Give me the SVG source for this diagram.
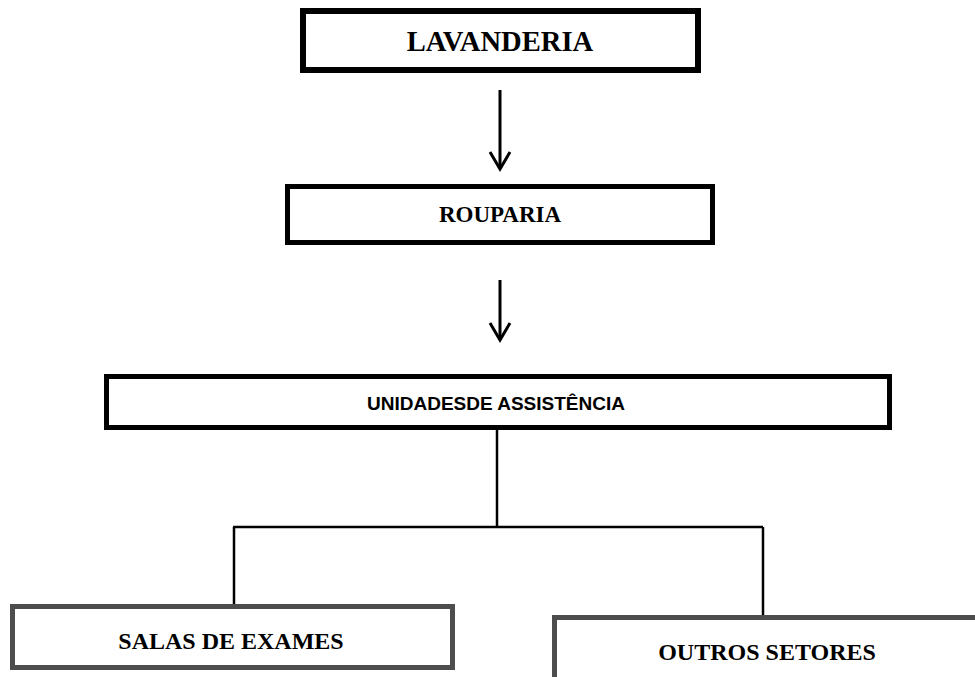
<svg xmlns="http://www.w3.org/2000/svg" width="975" height="677" viewBox="0 0 975 677">
  <style>
    .box { fill: #ffffff; stroke: #000000; stroke-width: 5; }
    .box-grey { fill: #ffffff; stroke: #4d4d4d; stroke-width: 5; }
    .serif { font-family: "Liberation Serif", "Times New Roman", serif; font-weight: bold; fill: #000; text-anchor: middle; }
    .sans { font-family: "Liberation Sans", Arial, sans-serif; font-weight: bold; fill: #000; text-anchor: middle; }
    .wire { fill: none; stroke: #000; stroke-width: 2.5; }
    .arrow { fill: none; stroke: #000; stroke-width: 3; }
  </style>

  <!-- connectors -->
  <g id="connectors">
    <line class="arrow" x1="500" y1="90" x2="500" y2="169"/>
    <polyline class="arrow" points="490,152 500,169 510,152"/>
    <line class="arrow" x1="500" y1="280" x2="500" y2="340"/>
    <polyline class="arrow" points="490,323 500,340 510,323"/>
    <line class="wire" x1="497" y1="430" x2="497" y2="527"/>
    <line class="wire" x1="233" y1="527" x2="763" y2="527"/>
    <line class="wire" x1="234" y1="527" x2="234" y2="604"/>
    <line class="wire" x1="763" y1="527" x2="763" y2="615"/>
  </g>

  <g id="lavanderia">
    <rect class="box" x="303" y="11" width="395" height="59" style="stroke-width:6"/>
    <text class="serif" x="500" y="51" font-size="28.6">LAVANDERIA</text>
  </g>

  <g id="rouparia">
    <rect class="box" x="287.5" y="186.5" width="425" height="56"/>
    <text class="serif" x="500" y="222" font-size="23">ROUPARIA</text>
  </g>

  <g id="unidades">
    <rect class="box" x="106.5" y="376.5" width="783" height="51"/>
    <text class="sans" x="496" y="410" font-size="19">UNIDADESDE ASSISTÊNCIA</text>
  </g>

  <g id="salas">
    <rect class="box-grey" x="12.5" y="606.5" width="440" height="61"/>
    <text class="serif" x="231" y="649" font-size="24">SALAS DE EXAMES</text>
  </g>

  <g id="outros">
    <rect class="box-grey" x="554.5" y="617.5" width="430" height="80"/>
    <text class="serif" x="767" y="660" font-size="24">OUTROS SETORES</text>
  </g>
</svg>
